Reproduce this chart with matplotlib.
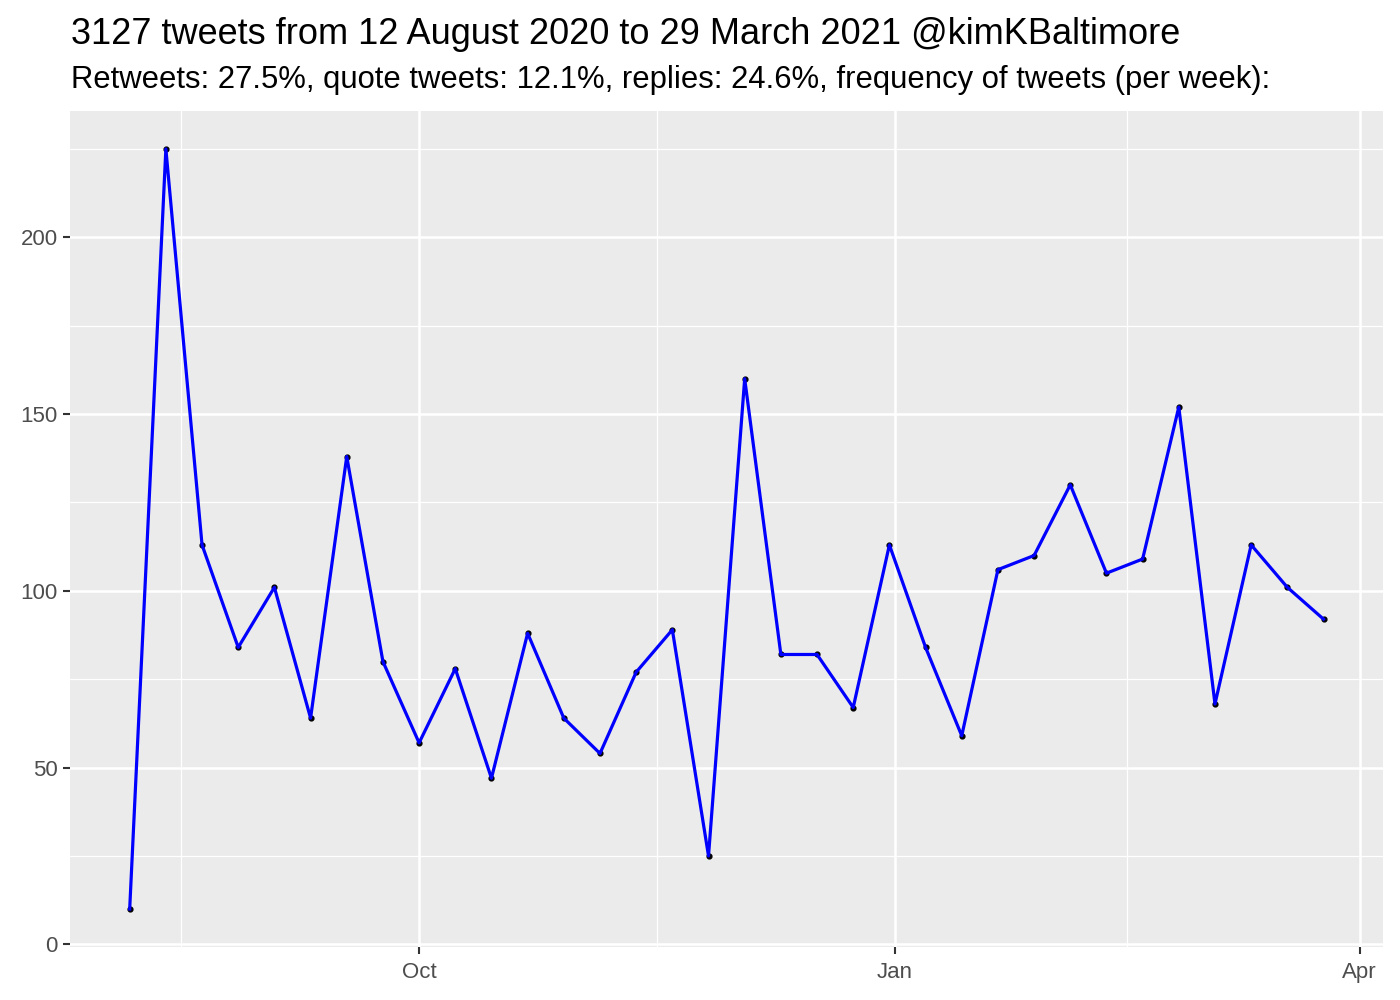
import matplotlib
matplotlib.use("Agg")
import matplotlib.pyplot as plt
import matplotlib.dates as mdates
import numpy as np
import datetime as dt

plt.rcParams['font.family'] = ['Liberation Sans', 'DejaVu Sans']

# weekly tweet counts
start = dt.date(2020, 8, 6)
counts = [10, 225, 113, 84, 101, 64, 138, 80, 57, 78, 47, 88, 64, 54, 77, 89, 25,
          160, 82, 82, 67, 113, 84, 59, 106, 110, 130, 105, 109, 152, 68, 113, 101, 92]
weeks = [start + dt.timedelta(days=7 * i) for i in range(len(counts))]

title = "3127 tweets from 12 August 2020 to 29 March 2021 @kimKBaltimore"
subtitle = "Retweets: 27.5%, quote tweets: 12.1%, replies: 24.6%, frequency of tweets (per week):"

major_ticks = [dt.date(2020, 10, 1), dt.date(2021, 1, 1), dt.date(2021, 4, 1)]
major_labels = ["Oct", "Jan", "Apr"]
minor_ticks = [dt.date(2020, 8, 16), dt.date(2020, 11, 16), dt.date(2021, 2, 15)]

fig = plt.figure(figsize=(14, 10), dpi=100)
ax = fig.add_axes([0.05, 0.053, 0.938, 0.836])
ax.set_facecolor('#EBEBEB')

ax.scatter(weeks, counts, s=12, color='black', zorder=3)
ax.plot(weeks, counts, color='blue', linewidth=2.3, zorder=4)

# ggplot style expansion
x0 = mdates.date2num(weeks[0]); x1 = mdates.date2num(weeks[-1])
pad = (x1 - x0) * 0.05
ax.set_xlim(x0 - pad, x1 + pad)
ypad = (max(counts) - min(counts)) * 0.05
ax.set_ylim(min(counts) - ypad, max(counts) + ypad)

ax.set_xticks([mdates.date2num(d) for d in major_ticks])
ax.set_xticklabels(major_labels)
ax.set_xticks([mdates.date2num(d) for d in minor_ticks], minor=True)
ax.set_yticks([0, 50, 100, 150, 200])
ax.set_yticks([25, 75, 125, 175, 225], minor=True)

ax.grid(which='major', color='white', linewidth=1.8)
ax.grid(which='minor', color='white', linewidth=0.9)
ax.set_axisbelow(True)
for s in ax.spines.values():
    s.set_visible(False)
ax.tick_params(which='major', length=5, width=1.5, color='#333333', labelsize=16,
               labelcolor='#4D4D4D', pad=4)
ax.tick_params(axis='x', which='major', pad=6)
ax.tick_params(which='minor', length=0)

fig.text(0.051, 0.966, title, fontsize=26, va='center', ha='left')
fig.text(0.051, 0.920, subtitle, fontsize=22.3, va='center', ha='left')

fig.savefig("out.png", dpi=100)
